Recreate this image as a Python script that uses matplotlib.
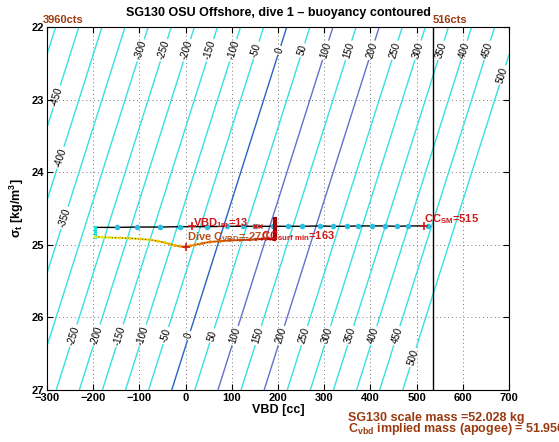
import numpy as np
import matplotlib
matplotlib.use('Agg')
import matplotlib.pyplot as plt
from matplotlib.collections import LineCollection
from matplotlib.colors import LinearSegmentedColormap

plt.rcParams['font.family'] = ['Liberation Sans', 'DejaVu Sans']
plt.rcParams['mathtext.fontset'] = 'custom'
plt.rcParams['mathtext.rm'] = 'Liberation Sans:bold'
plt.rcParams['mathtext.bf'] = 'Liberation Sans:bold'
plt.rcParams['mathtext.it'] = 'Liberation Sans:bold'
plt.rcParams['mathtext.default'] = 'rm'

# ---------------- data ----------------
title = 'SG130 OSU Offshore, dive 1 \u2013 buoyancy contoured'
buoy_levels = list(range(-500, 501, 50))
buoy_slope = 49.8
buoy_zero_vbd = 219      # VBD of zero buoyancy at sigma_t = 22

x_ticks = [-300, -200, -100, 0, 100, 200, 300, 400, 500, 600, 700]
y_ticks = [22, 23, 24, 25, 26, 27]

# surface (black) track with markers
surf_vbd = [-196, -148, -105, -55, -12, 46, 90, 124, 150, 189, 222, 252, 291, 319,
            349, 373, 404, 432, 458, 481, 525]
surf_sigma = [24.76, 24.76, 24.755, 24.755, 24.75, 24.75, 24.745, 24.745, 24.745, 24.745,
              24.745, 24.745, 24.74, 24.745, 24.745, 24.74, 24.74, 24.74, 24.745, 24.74, 24.74]

# dive trace (coloured by time)
dive_vbd = [-196, -180, -164, -142, -120, -98, -77, -60, -45, -34, -23, -12, -1, 10, 20,
            36, 53, 75, 96, 118, 139, 152, 165, 175, 183, 190, 193, 193, 193, 193]
dive_sigma = [24.89, 24.895, 24.90, 24.905, 24.91, 24.92, 24.93, 24.95, 24.97, 24.99, 25.01,
              25.02, 25.03, 25.015, 25.00, 24.98, 24.96, 24.95, 24.94, 24.935, 24.93, 24.925,
              24.92, 24.92, 24.92, 24.925, 24.93, 24.85, 24.72, 24.62]

# connector at start of dive
start_vbd = [-196, -196]
start_sigma = [24.76, 24.89]

vbd_1m = 13
cc_surf_min = 163
cc_sm = 515
dive_c_vbd = -270
vbd_line = 535

# ---------------- figure ----------------
fig = plt.figure(figsize=(5.59, 4.42), dpi=100)
ax = fig.add_axes([0.084, 0.1176, 0.8266, 0.8213])

V, S = np.meshgrid(np.linspace(-300, 700, 401), np.linspace(22, 27, 201))
B = V + buoy_slope * (S - 22) - buoy_zero_vbd
cyan = '#38e0e0'
level_colors = []
for lv in buoy_levels:
    if lv == 0:
        level_colors.append('#2a62c4')
    elif lv in (100, 200):
        level_colors.append('#6470cc')
    else:
        level_colors.append(cyan)
cs = ax.contour(V, S, B, levels=buoy_levels, colors=level_colors, linewidths=1.0)
ax.set_xlim(-300, 700)
ax.set_ylim(27, 22)

def on_line(level, s):
    return (level + buoy_zero_vbd - buoy_slope * (s - 22), s)

label_pos = []
for lv in range(-300, 451, 50):
    label_pos.append(on_line(lv, 22.32))
label_pos.append(on_line(500, 22.66))
label_pos.append(on_line(-450, 22.96))
label_pos.append(on_line(-400, 23.8))
label_pos.append(on_line(-350, 24.63))
for lv in range(-250, 451, 50):
    label_pos.append(on_line(lv, 26.25))
label_pos.append(on_line(500, 26.55))
ax.clabel(cs, inline=True, fontsize=7, fmt='%d', colors='black', manual=label_pos,
          inline_spacing=2)
p_top = ax.transData.transform(on_line(0, 22))
p_bot = ax.transData.transform(on_line(0, 27))
ang = np.degrees(np.arctan2(p_top[1] - p_bot[1], p_top[0] - p_bot[0]))
for t in cs.labelTexts:
    t.set_fontweight('normal')
    t.set_family(['Liberation Sans'])
    t.set_rotation(ang)

# vertical VBD line
ax.axvline(vbd_line, color='black', lw=1.0)

# surface track
ax.plot(surf_vbd, surf_sigma, color='black', lw=1.0, zorder=4)
ax.plot(surf_vbd[1:], surf_sigma[1:], ls='none', marker='o', ms=3, color='#2bbfe0',
        mec='#2bbfe0', zorder=5)
ax.plot(start_vbd, start_sigma, color='#22e0e0', lw=2.2, zorder=4)

# dive trace coloured by time
cmap = LinearSegmentedColormap.from_list('trk', ['#eeee22', '#f0d000', '#f0a000', '#e06000', '#c00000', '#aa0000'])
pts = np.column_stack([dive_vbd, dive_sigma])
segs = np.stack([pts[:-1], pts[1:]], axis=1)
t = np.linspace(0, 1, len(segs))
lc = LineCollection(segs, colors=cmap(t), linewidths=[1.4] * (len(segs) - 3) + [3] * 3, zorder=5)
ax.add_collection(lc)
ax.plot(dive_vbd[:-3], dive_sigma[:-3], ls=(0, (1, 2)), color='#4a4a1a', lw=0.8, zorder=6)
tt = np.linspace(0, 1, len(dive_vbd))
ax.scatter(dive_vbd[:-3], dive_sigma[:-3], s=5, c=cmap(tt[:-3]), zorder=6, linewidths=0)

# markers and annotations
red = '#d01818'
ax.plot([vbd_1m], [24.745], marker='+', color=red, ms=6, mew=1.2, zorder=7)
ax.plot([dive_c_vbd + 270], [25.03], marker='+', color=red, ms=6, mew=1.2, zorder=7)
ax.plot([cc_sm], [24.74], marker='+', color=red, ms=6, mew=1.2, zorder=7)
ax.plot([150, 162], [24.745, 24.745], ls='none', marker='x', color=red, ms=3, mew=1.0, zorder=7)

ax.text(vbd_1m + 4, 24.70, r'VBD$_{1m}$=13', color=red, fontsize=8, fontweight='bold',
        va='center', ha='left', zorder=8)
ax.text(2, 24.90, r'Dive C$_{VBD}$=%d' % dive_c_vbd, color='#b8501a', fontsize=8,
        fontweight='bold', va='center', ha='left', zorder=8)
ax.text(cc_surf_min, 24.88, r'CC$_{surf\ min}$=%d' % cc_surf_min, color=red, fontsize=8,
        fontweight='bold', va='center', ha='left', zorder=8)
ax.text(cc_sm, 24.65, r'CC$_{SM}$=%d' % cc_sm, color=red, fontsize=8, fontweight='bold',
        va='center', ha='left', zorder=8)

brown = '#9a3a10'
ax.text(-310, 21.97, '3960cts', color=brown, fontsize=8, fontweight='bold', va='bottom', ha='left')
ax.text(vbd_line, 21.97, '516cts', color=brown, fontsize=8, fontweight='bold', va='bottom', ha='left')

# axes
ax.set_xticks(x_ticks)
ax.set_yticks(y_ticks)
ax.set_xticklabels(['\u2212%d' % -v if v < 0 else '%d' % v for v in x_ticks], fontweight='bold', fontsize=8)
ax.set_yticklabels([str(v) for v in y_ticks], fontweight='bold', fontsize=8)
ax.tick_params(direction='in', top=True, right=True, length=4, width=0.8, pad=2)
ax.grid(True, ls=(0, (1, 3)), color='#777777', lw=0.7)
ax.set_axisbelow(True)
for sp in ax.spines.values():
    sp.set_linewidth(0.8)
ax.set_xlabel('VBD [cc]', fontweight='bold', fontsize=9, labelpad=1)
ax.set_ylabel(r'$\sigma_t$ [kg/m$^3$]', fontweight='bold', fontsize=9, labelpad=4)
ax.set_title(title, fontweight='bold', fontsize=9, pad=8)

fig.text(348 / 559, 1 - 418 / 442, 'SG130 scale mass =52.028 kg', color=brown, fontsize=9,
         fontweight='bold', va='center', ha='left')
fig.text(348 / 559, 1 - 429 / 442, r'C$_{vbd}$ implied mass (apogee) = 51.956 kg', color=brown,
         fontsize=9, fontweight='bold', va='center', ha='left')

fig.savefig('out.png', dpi=100)
